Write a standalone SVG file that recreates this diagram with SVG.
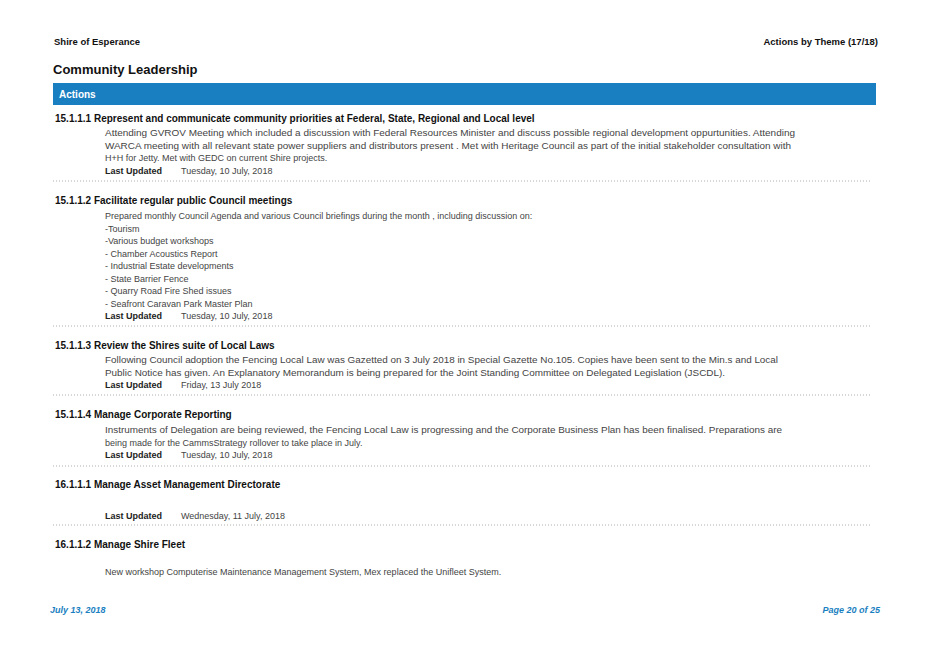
<svg xmlns="http://www.w3.org/2000/svg" width="928" height="657" viewBox="0 0 928 657">
<style>
text{font-family:"Liberation Sans",Arial,sans-serif;fill:#222}
.h{font-size:10px;font-weight:bold;fill:#111}
.b{font-size:9px;fill:#444}
.lu{font-size:9px;font-weight:bold;fill:#222}
.d{stroke:#999;stroke-width:0.8;stroke-dasharray:1 2}
.f{font-size:9px;font-weight:bold;font-style:italic;fill:#1a7fc1}
</style>
<rect width="928" height="657" fill="#fff"/>
<g id="header">
<text x="54" y="45" class="h" style="font-size:9.5px">Shire of Esperance</text>
<text x="878" y="45" class="h" style="font-size:9.5px" text-anchor="end">Actions by Theme  (17/18)</text>
<text x="53" y="74" style="font-size:13px;font-weight:bold;fill:#111">Community Leadership</text>
<rect x="53" y="83" width="823" height="22" fill="#1a7fc1"/>
<text x="59" y="98" style="font-size:10px;font-weight:bold;fill:#fff">Actions</text>
</g>
<g id="connectors">
<line x1="53" y1="181" x2="872" y2="181" class="d"/>
<line x1="53" y1="326" x2="872" y2="326" class="d"/>
<line x1="53" y1="395" x2="872" y2="395" class="d"/>
<line x1="53" y1="466" x2="872" y2="466" class="d"/>
<line x1="53" y1="525" x2="872" y2="525" class="d"/>
</g>
<g id="a1">
<text x="55" y="122" class="h">15.1.1.1  Represent and communicate community priorities at Federal, State, Regional and Local level</text>
<text x="105" y="136" class="b" textLength="690" lengthAdjust="spacingAndGlyphs">Attending GVROV Meeting  which included a discussion with Federal Resources Minister and discuss possible regional development oppurtunities.  Attending</text>
<text x="105" y="148.5" class="b" textLength="686" lengthAdjust="spacingAndGlyphs">WARCA meeting with all relevant state power suppliers and distributors present .  Met with Heritage Council as part of the initial stakeholder consultation with</text>
<text x="105" y="161" class="b">H+H for Jetty.  Met with GEDC on current Shire projects.</text>
<text x="105" y="174" class="lu">Last Updated</text><text x="181" y="174" class="b">Tuesday, 10 July, 2018</text>
</g>
<g id="a2">
<text x="55" y="204" class="h">15.1.1.2  Facilitate regular public Council meetings</text>
<text x="105" y="219" class="b">Prepared monthly Council Agenda and various Council briefings during the month , including discussion on:</text>
<text x="105" y="231.5" class="b">-Tourism</text>
<text x="105" y="244" class="b">-Various budget workshops</text>
<text x="105" y="256.5" class="b">- Chamber Acoustics Report</text>
<text x="105" y="269" class="b">- Industrial Estate developments</text>
<text x="105" y="281.5" class="b">- State Barrier Fence</text>
<text x="105" y="294" class="b">- Quarry Road Fire Shed issues</text>
<text x="105" y="306.5" class="b">- Seafront Caravan Park Master Plan</text>
<text x="105" y="319" class="lu">Last Updated</text><text x="181" y="319" class="b">Tuesday, 10 July, 2018</text>
</g>
<g id="a3">
<text x="55" y="349" class="h">15.1.1.3  Review the Shires suite of Local Laws</text>
<text x="105" y="363" class="b" textLength="673" lengthAdjust="spacingAndGlyphs">Following Council adoption the Fencing Local Law was Gazetted on 3 July 2018 in Special Gazette No.105. Copies have been sent to the Min.s and Local</text>
<text x="105" y="375.5" class="b" textLength="620" lengthAdjust="spacingAndGlyphs">Public Notice has given. An Explanatory Memorandum is being prepared for the Joint Standing Committee on Delegated Legislation (JSCDL).</text>
<text x="105" y="388" class="lu">Last Updated</text><text x="181" y="388" class="b">Friday, 13 July  2018</text>
</g>
<g id="a4">
<text x="55" y="418" class="h">15.1.1.4  Manage Corporate Reporting</text>
<text x="105" y="433" class="b" textLength="677" lengthAdjust="spacingAndGlyphs">Instruments of Delegation are being reviewed, the Fencing Local Law is progressing and the Corporate Business Plan has been finalised. Preparations are</text>
<text x="105" y="445.5" class="b">being made for the CammsStrategy rollover to take place in July.</text>
<text x="105" y="458" class="lu">Last Updated</text><text x="181" y="458" class="b">Tuesday, 10 July, 2018</text>
</g>
<g id="a5">
<text x="55" y="488" class="h">16.1.1.1  Manage Asset Management Directorate</text>
<text x="105" y="519" class="lu">Last Updated</text><text x="181" y="519" class="b">Wednesday, 11 July, 2018</text>
</g>
<g id="a6">
<text x="55" y="548" class="h">16.1.1.2  Manage Shire Fleet</text>
<text x="105" y="575" class="b">New workshop Computerise Maintenance Management System, Mex replaced the  Unifleet  System.</text>
</g>
<g id="footer">
<text x="50" y="613" class="f">July 13, 2018</text>
<text x="880" y="613" class="f" text-anchor="end">Page 20 of 25</text>
</g>
</svg>
